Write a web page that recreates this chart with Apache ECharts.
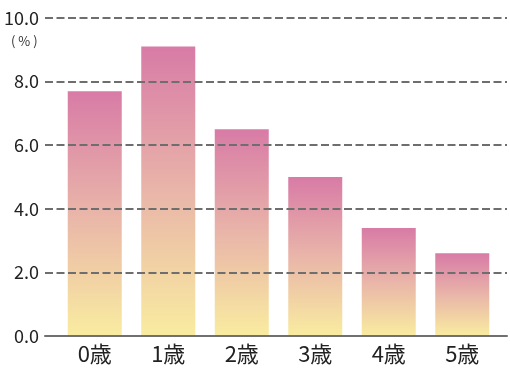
<!DOCTYPE html>
<html>
<head>
<meta charset="utf-8">
<script src="https://cdn.jsdelivr.net/npm/echarts@6/dist/echarts.min.js"></script>
<style>
  html, body { margin: 0; padding: 0; background: #fff; }
  #chart { width: 510px; height: 369px; }
</style>
</head>
<body>
<div id="chart"></div>
<script>
// 年齢別の割合 (%)
var ages = ['0歳', '1歳', '2歳', '3歳', '4歳', '5歳'];
var rates = [7.7, 9.1, 6.5, 5.0, 3.4, 2.6];
var yTicks = { min: 0, max: 10, step: 2 };

var FONT = '"Noto Sans CJK JP", "Noto Sans", sans-serif';

var chart = echarts.init(document.getElementById('chart'));

chart.setOption({
  animation: false,
  textStyle: { fontFamily: FONT },
  // grid 0: bars, grid 1: axis line + dashed grid drawn over the bars
  grid: [
    { left: 58, right: 11, top: 18, bottom: 33 },
    { left: 45, right: 3, top: 18, bottom: 33 }
  ],
  xAxis: [
    {
      type: 'category',
      gridIndex: 0,
      data: ages,
      axisLine: { show: false },
      axisTick: { show: false },
      axisLabel: { color: '#222', fontSize: 22, margin: 7, fontFamily: FONT }
    },
    {
      type: 'value',
      gridIndex: 1,
      min: 0,
      max: 1,
      z: 5,
      axisLine: { show: true, lineStyle: { color: '#707070', width: 2 } },
      axisTick: { show: false },
      axisLabel: { show: false },
      splitLine: { show: false }
    }
  ],
  yAxis: [
    {
      type: 'value',
      gridIndex: 0,
      min: yTicks.min,
      max: yTicks.max,
      interval: yTicks.step,
      show: false
    },
    {
      type: 'value',
      gridIndex: 1,
      min: yTicks.min,
      max: yTicks.max,
      interval: yTicks.step,
      z: 5,
      axisLine: { show: false },
      axisTick: { show: false },
      axisLabel: {
        color: '#222',
        fontSize: 18,
        margin: 6,
        fontFamily: FONT,
        formatter: function (v) { return v.toFixed(1); }
      },
      splitLine: {
        show: true,
        lineStyle: { color: '#6e6e6e', width: 2, type: [8, 3.5] }
      }
    }
  ],
  graphic: [{
    type: 'text',
    left: 11,
    top: 35,
    style: { text: '( % )', fill: '#333', fontSize: 13, fontFamily: FONT }
  }],
  series: [{
    type: 'bar',
    xAxisIndex: 0,
    yAxisIndex: 0,
    data: rates,
    barWidth: 54,
    itemStyle: {
      color: new echarts.graphic.LinearGradient(0, 0, 0, 1, [
        { offset: 0, color: '#d87ba6' },
        { offset: 0.5, color: '#e9b5a9' },
        { offset: 1, color: '#f9eca0' }
      ])
    }
  }]
});
</script>
</body>
</html>
